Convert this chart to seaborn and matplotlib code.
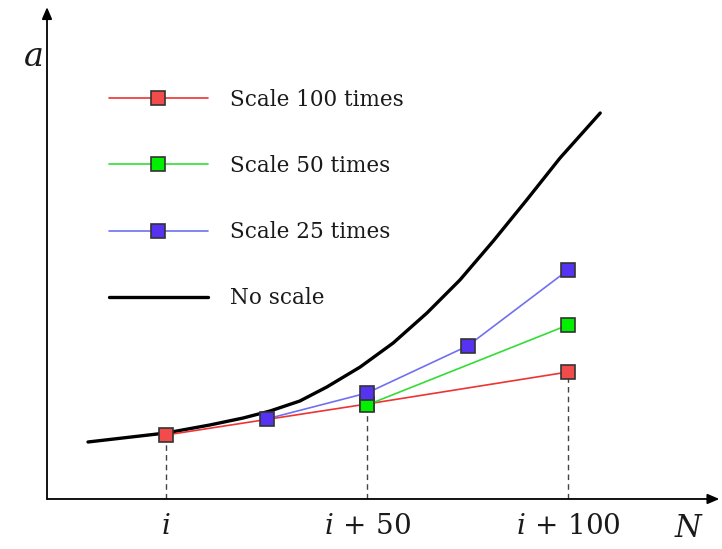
import numpy as np
import pandas as pd
import matplotlib
matplotlib.use("Agg")
import matplotlib.pyplot as plt
import seaborn as sns

# Dados (N relativo a i, valores de a em unidades arbitrárias)
n_no_scale = [-19.4, 0, 10.9, 19.2, 25.9, 33.3, 40.0, 48.3, 56.5, 64.9,
              73.1, 81.4, 89.7, 98.0, 108.0]
a_no_scale = [5.7, 6.6, 7.4, 8.1, 8.8, 9.8, 11.2, 13.2, 15.6, 18.6,
              21.9, 25.8, 29.9, 34.1, 38.6]

n_100 = [0, 50, 100]
a_100 = [6.4, 9.5, 12.7]

n_50 = [50, 100]
a_50 = [9.4, 17.4]

n_25 = [25, 50, 75, 100]
a_25 = [8.0, 10.6, 15.3, 22.9]

tick_pos = [0, 50, 100]
tick_labels = [r"$i$", r"$i\,+\,50$", r"$i\,+\,100$"]

sns.set_style("white")
plt.rcParams["font.family"] = ["DejaVu Serif"]
plt.rcParams["mathtext.fontset"] = "dejavuserif"
plt.rcParams["text.color"] = "#1a1a1a"
plt.rcParams["xtick.color"] = "#1a1a1a"

fig = plt.figure(figsize=(7.22, 5.49), dpi=100)
ax = fig.add_axes([0.0651, 0.0911, 0.9266, 0.887])

# Séries com marcadores
estilo = dict(marker="s", markersize=10, markeredgecolor="#333333",
              markeredgewidth=1.2, linewidth=1.2)
sns.lineplot(x=n_100, y=a_100, color="#ee3333", markerfacecolor="#f24b4b",
             label="Scale 100 times", ax=ax, zorder=3, **estilo)
sns.lineplot(x=n_50, y=a_50, color="#33dd33", markerfacecolor="#00f000",
             label="Scale 50 times", ax=ax, zorder=4, **estilo)
sns.lineplot(x=n_25, y=a_25, color="#7070f0", markerfacecolor="#5533f0",
             label="Scale 25 times", ax=ax, zorder=5, **estilo)
sns.lineplot(x=n_no_scale, y=a_no_scale, color="black", linewidth=2.4,
             label="No scale", ax=ax, zorder=2, sort=True)

# Linhas tracejadas até o eixo
ax.vlines(n_100, 0, a_100, linestyles=(0, (4, 3)), colors="#444444",
          linewidth=1.0, zorder=1)

ax.set_xlim(-29.6, 136.8)
ax.set_ylim(0, 48.7)

# Eixos com setas
for s in ax.spines.values():
    s.set_visible(False)
seta = dict(arrowstyle="-|>,head_length=0.7,head_width=0.3", color="black",
            lw=1.3, shrinkA=0, shrinkB=0)
ax.annotate("", xy=(1.005, 0), xytext=(0, 0), xycoords="axes fraction",
            arrowprops=seta, annotation_clip=False)
ax.annotate("", xy=(0, 1.01), xytext=(0, 0), xycoords="axes fraction",
            arrowprops=seta, annotation_clip=False)

ax.set_xticks(tick_pos)
ax.set_xticklabels(tick_labels, fontsize=20)
ax.tick_params(axis="x", length=0, pad=10)
ax.set_yticks([])

ax.text(-0.021, 0.908, r"$a$", transform=ax.transAxes, fontsize=24,
        ha="center", va="center")
ax.text(0.96, -0.06, r"$N$", transform=ax.transAxes, fontsize=22,
        ha="center", va="center")

leg = ax.legend(loc="upper left", bbox_to_anchor=(0.063, 0.882),
                frameon=False, fontsize=15.5, handlelength=4.6,
                labelspacing=2.05, handletextpad=1.05)

fig.savefig("out.png", dpi=100)
